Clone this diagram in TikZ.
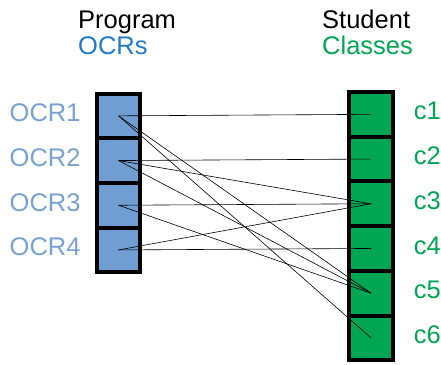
\documentclass[tikz,border=0pt]{standalone}
\usepackage{fontspec}
\setmainfont{Liberation Sans}
\usetikzlibrary{positioning}
\definecolor{ocrblue}{RGB}{35,120,200}
\definecolor{boxblue}{RGB}{112,157,210}
\definecolor{lblblue}{RGB}{120,162,212}
\definecolor{clsgreen}{RGB}{0,166,81}

\begin{document}
\begin{tikzpicture}[
				x=1pt,y=-1pt,
				font=\fontsize{25.5}{30}\selectfont,
				cell/.style={draw=black,line width=4pt,rectangle,minimum width=43.5pt,minimum height=44.7pt,inner sep=0pt,outer sep=0pt},
				ocrcell/.style={cell,fill=boxblue},
				clscell/.style={cell,fill=clsgreen},
				hdr/.style={inner sep=0pt,anchor=base west},
				lbl/.style={inner sep=0pt,yshift=3pt},
				link/.style={line width=0.6pt,black}
				]
				
				\useasboundingbox (0,0) rectangle (441,364);
				
				% Intestazioni
				\node[hdr] (hprog) at (78,28.3) {Program};
				\node[hdr,text=ocrblue] (hocr) at (78,54.5) {OCRs};
				\node[hdr] (hstud) at (322,28.3) {Student};
				\node[hdr,text=clsgreen] (hcls) at (322,54.5) {Classes};
				
				% Colonna OCR
				\node[ocrcell] (ocr1) at (118.5,115.85) {};
				\node[ocrcell,below=0pt of ocr1] (ocr2) {};
				\node[ocrcell,below=0pt of ocr2] (ocr3) {};
				\node[ocrcell,below=0pt of ocr3] (ocr4) {};
				
				% Colonna classi
				\node[clscell] (cls1) at (371,114.35) {};
				\node[clscell,below=0pt of cls1] (cls2) {};
				\node[clscell,below=0pt of cls2] (cls3) {};
				\node[clscell,below=0pt of cls3] (cls4) {};
				\node[clscell,below=0pt of cls4] (cls5) {};
				\node[clscell,below=0pt of cls5] (cls6) {};
				
				% Etichette
				\node[lbl,text=lblblue,left=16pt of ocr1] (l1) {OCR1};
				\node[lbl,text=lblblue,left=16pt of ocr2] (l2) {OCR2};
				\node[lbl,text=lblblue,left=16pt of ocr3] (l3) {OCR3};
				\node[lbl,text=lblblue,left=16pt of ocr4] (l4) {OCR4};
				\node[lbl,text=clsgreen,right=21pt of cls1] (r1) {c1};
				\node[lbl,text=clsgreen,right=21pt of cls2] (r2) {c2};
				\node[lbl,text=clsgreen,right=21pt of cls3] (r3) {c3};
				\node[lbl,text=clsgreen,right=21pt of cls4] (r4) {c4};
				\node[lbl,text=clsgreen,right=21pt of cls5] (r5) {c5};
				\node[lbl,text=clsgreen,right=21pt of cls6] (r6) {c6};
				
				% Collegamenti
				\draw[link] (ocr1.center) -- (cls1.center);
				\draw[link] (ocr1.center) -- (cls5.center);
				\draw[link] (ocr1.center) -- (cls6.center);
				\draw[link] (ocr2.center) -- (cls2.center);
				\draw[link] (ocr2.center) -- (cls3.center);
				\draw[link] (ocr2.center) -- (cls5.center);
				\draw[link] (ocr3.center) -- (cls3.center);
				\draw[link] (ocr3.center) -- (cls5.center);
				\draw[link] (ocr4.center) -- (cls3.center);
				\draw[link] (ocr4.center) -- (cls4.center);
				
			\end{tikzpicture}
\end{document}
